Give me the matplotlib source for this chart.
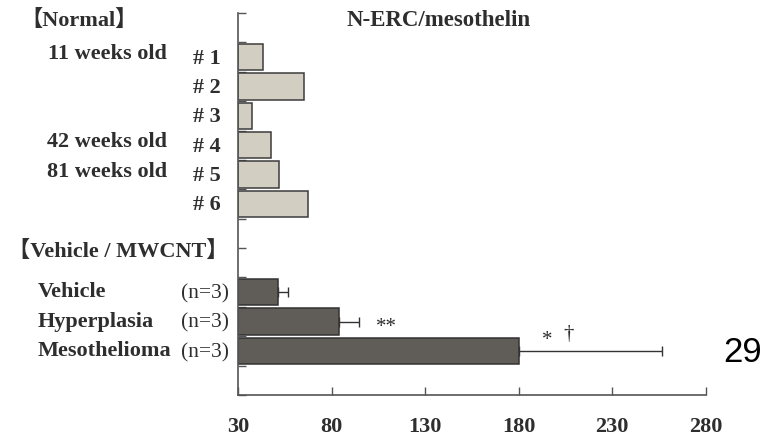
import numpy as np
import matplotlib
matplotlib.use("Agg")
import matplotlib.pyplot as plt

# slot order from top to bottom (blank slots keep the gaps of the figure)
slots = ["", "# 1", "# 2", "# 3", "# 4", "# 5", "# 6", "", "",
         "Vehicle", "Hyperplasia", "Mesothelioma", ""]

normal_labels = ["# 1", "# 2", "# 3", "# 4", "# 5", "# 6"]
normal_values = [43.0, 65.0, 37.2, 47.3, 51.6, 67.3]
age_labels = {"# 1": "11 weeks old", "# 4": "42 weeks old", "# 5": "81 weeks old"}

group_labels = ["Vehicle", "Hyperplasia", "Mesothelioma"]
group_n = ["(n=3)", "(n=3)", "(n=3)"]
group_values = [51.4, 83.9, 180.4]
group_err = [5.3, 10.8, 76.2]

x_ticks = [30, 80, 130, 180, 230, 280]
x_min, x_max = 30, 280

serif = ["Liberation Serif", "Noto Sans CJK JP"]
txt = "#2e2e2e"
W, H = 777, 437

fig = plt.figure(figsize=(W / 100, H / 100), dpi=100)
ax = fig.add_axes([238.3 / W, 42 / H, 467.4 / W, 382 / H])

pos = {name: i for i, name in enumerate(slots) if name}
y_norm = [pos[n] for n in normal_labels]
y_grp = [pos[n] for n in group_labels]

ax.barh(y_norm, np.array(normal_values) - x_min, left=x_min, height=0.9,
        color="#d3cec2", edgecolor="#3c3c3c", linewidth=1.1, zorder=2)
ax.barh(y_grp, np.array(group_values) - x_min, left=x_min, height=0.9,
        color="#605d59", edgecolor="#333333", linewidth=1.1, zorder=2)
ax.errorbar(group_values, y_grp, xerr=[np.zeros(3), group_err], fmt="none",
            ecolor="#333333", elinewidth=1.0, capsize=3.8, capthick=1.0, zorder=1)

ax.set_xlim(x_min, x_max)
ax.set_ylim(len(slots) - 0.5, -0.5)
ax.set_xticks(x_ticks)
ax.set_xticklabels([str(t) for t in x_ticks], family=serif, weight="bold",
                   fontsize=16, color=txt)
ax.set_yticks([])
ax.set_yticks(np.arange(-0.5, len(slots)), minor=True)
ax.tick_params(axis="x", direction="in", length=6, width=1, color="#555555", pad=16)
ax.tick_params(axis="y", which="minor", direction="in", length=6, width=1,
               color="#555555")
for s in ["top", "right"]:
    ax.spines[s].set_visible(False)
for s in ["left", "bottom"]:
    ax.spines[s].set_color("#555555")
    ax.spines[s].set_linewidth(1.2)

# labels left of the axis
yax = ax.get_yaxis_transform()


def fx(px):
    return (px - 238.3) / 467.4


for name in normal_labels:
    ax.text(fx(221), pos[name] + 0.05, name, transform=yax, ha="right",
            va="center", family=serif, weight="bold", fontsize=16, color=txt)
    if name in age_labels:
        ax.text(fx(167), pos[name] - 0.1, age_labels[name], transform=yax,
                ha="right", va="center", family=serif, weight="bold",
                fontsize=16, color=txt)

for name, n in zip(group_labels, group_n):
    ax.text(fx(38), pos[name], name, transform=yax, ha="left", va="center",
            family=serif, weight="bold", fontsize=16, color=txt)
    ax.text(fx(229), pos[name] + 0.05, n, transform=yax, ha="right",
            va="center", family=serif, fontsize=15.5, color=txt)

ax.text(fx(20), -0.2, "【Normal】", transform=yax, ha="left", va="center",
        family=serif, weight="bold", fontsize=16, color=txt)
ax.text(fx(8), 7.66, "【Vehicle / MWCNT】", transform=yax, ha="left",
        va="center", family=serif, weight="bold", fontsize=16, color=txt)

# significance marks
ax.text(109.5, pos["Hyperplasia"] + 0.2, "**", ha="center", va="center",
        family=serif, fontsize=15, color=txt)
ax.text(195.4, pos["Mesothelioma"] - 0.35, "*", ha="center", va="center",
        family=serif, fontsize=15, color=txt)
ax.text(206.6, pos["Mesothelioma"] - 0.55, "†", ha="center", va="center",
        family=serif, fontsize=15, color=txt)

fig.text(439 / W, 1 - 20 / H, "N-ERC/mesothelin", ha="center", va="center",
         family=serif, weight="bold", fontsize=16.5, color=txt)
fig.text(742.7 / W, 1 - 352.5 / H, "29", ha="center", va="center",
         family="Liberation Sans", fontsize=25, color="black")

fig.savefig("out.png", dpi=100)
